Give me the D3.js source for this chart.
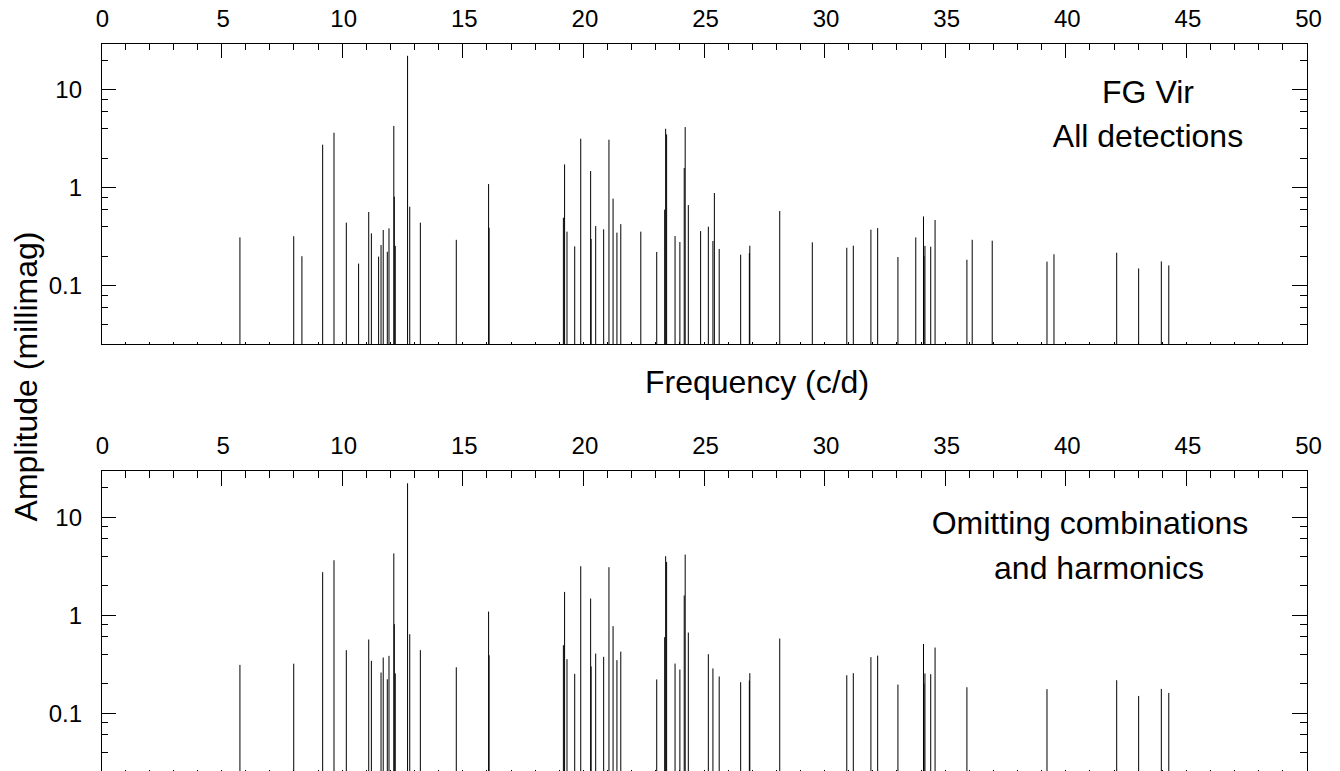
<!DOCTYPE html>
<html>
<head>
<meta charset="utf-8">
<script src="https://cdn.jsdelivr.net/npm/d3@7"></script>
<style>
  body { margin: 0; background: #fff; }
  svg { display: block; font-family: "Liberation Sans", Arial, sans-serif; }
</style>
</head>
<body>
<div id="chart"></div>
<script>
// frequencies (c/d) of the detected peaks
const freqs = [5.76, 7.99, 8.33, 9.19, 9.66, 10.17, 10.68, 11.10, 11.21, 11.51,
  11.61, 11.70, 11.87, 11.94, 12.14, 12.16, 12.20, 12.71, 12.80, 13.24,
  14.73, 16.07, 16.09, 19.17, 19.22, 19.32, 19.64, 19.89, 20.30, 20.32,
  20.51, 20.84, 21.06, 21.23, 21.39, 21.55, 22.38, 23.04, 23.37, 23.41,
  23.45, 23.80, 24.00, 24.18, 24.22, 24.35, 24.86, 25.18, 25.37, 25.43,
  25.63, 26.52, 26.88, 26.90, 28.14, 29.49, 30.92, 31.19, 31.92, 32.20,
  33.04, 33.78, 34.10, 34.12, 34.16, 34.40, 34.58, 35.90, 36.12, 36.95,
  39.22, 39.51, 42.11, 43.02, 43.96, 44.27];

// amplitudes (millimag)
const amps = [0.311, 0.32, 0.20, 2.75, 3.64, 0.44, 0.168, 0.565, 0.342, 0.198,
  0.26, 0.37, 0.222, 0.385, 4.27, 0.81, 0.255, 22.2, 0.64, 0.44,
  0.294, 1.09, 0.39, 0.494, 1.73, 0.356, 0.252, 3.16, 1.48, 0.30,
  0.406, 0.376, 3.09, 0.774, 0.348, 0.425, 0.356, 0.221, 0.597, 4.0,
  3.5, 0.321, 0.279, 1.59, 4.16, 0.665, 0.361, 0.40, 0.286, 0.883,
  0.237, 0.207, 0.215, 0.256, 0.578, 0.277, 0.244, 0.256, 0.373, 0.387,
  0.196, 0.311, 0.509, 0.20, 0.255, 0.25, 0.468, 0.184, 0.294, 0.288,
  0.176, 0.209, 0.217, 0.150, 0.177, 0.161];

// combination frequencies / harmonics, left out of the lower panel
const combos = [8.33, 10.68, 11.51, 22.38, 24.86, 25.43, 29.49, 33.78, 36.12, 36.95, 39.51];

const xTicks = [0, 5, 10, 15, 20, 25, 30, 35, 40, 45, 50];
const yTicks = [0.1, 1, 10];
const yTickLabels = ["0.1", "1", "10"];
const panelNotes = [["FG Vir", "All detections"], ["Omitting combinations", "and harmonics"]];

const W = 1340, H = 771;
const left = 101, right = 1307, plotH = 301;

var svg = d3.select("#chart").append("svg")
  .attr("width", W)
  .attr("height", H);

var x = d3.scaleLinear().domain([0, 50]).range([0, right - left]);
var y = d3.scaleLog().domain([0.0254, 30]).range([plotH, 0]);

var peaks = freqs.map(function (f, i) { return { f: f, a: amps[i] }; });
var kept = peaks.filter(function (d) { return combos.indexOf(d.f) < 0; });

// minor ticks at 2,4,6,8 of each decade
var yMinor = [];
[0.01, 0.1, 1, 10].forEach(function (dec) {
  [2, 4, 6, 8].forEach(function (m) {
    var v = +(m * dec).toPrecision(3);
    if (v > y.domain()[0] && v < y.domain()[1]) yMinor.push(v);
  });
});
var xMinor = d3.range(0, 51).filter(function (v) { return v % 5 != 0; });

function panel(top, data, notes, noteLayout) {
  var g = svg.append("g").attr("transform", "translate(" + left + "," + top + ")");
  var w = right - left;

  g.selectAll(".peak")
    .data(data)
    .enter().append("line")
    .attr("class", "peak")
    .attr("x1", function (d) { return x(d.f); })
    .attr("x2", function (d) { return x(d.f); })
    .attr("y1", plotH)
    .attr("y2", function (d) { return y(d.a); })
    .attr("stroke", "#000")
    .attr("stroke-width", 1);

  var ticks = g.append("g")
    .attr("stroke", "#000")
    .attr("stroke-width", 1)
    .attr("shape-rendering", "crispEdges");

  // top axis (ticks inside)
  ticks.selectAll(".xt").data(xTicks.slice(1, -1)).enter().append("line")
    .attr("x1", function (d) { return x(d); }).attr("x2", function (d) { return x(d); })
    .attr("y1", 0).attr("y2", 15);
  ticks.selectAll(".xm").data(xMinor).enter().append("line")
    .attr("x1", function (d) { return x(d); }).attr("x2", function (d) { return x(d); })
    .attr("y1", 0).attr("y2", 7);
  // bottom axis: tiny ticks
  ticks.selectAll(".xb").data(d3.range(1, 50)).enter().append("line")
    .attr("x1", function (d) { return x(d); }).attr("x2", function (d) { return x(d); })
    .attr("y1", plotH).attr("y2", plotH - 2);

  // left and right axes
  [0, w].forEach(function (x0) {
    var s = x0 == 0 ? 1 : -1;
    ticks.selectAll(null).data(yTicks).enter().append("line")
      .attr("x1", x0).attr("x2", x0 + s * 15)
      .attr("y1", function (d) { return y(d); }).attr("y2", function (d) { return y(d); });
    ticks.selectAll(null).data(yMinor).enter().append("line")
      .attr("x1", x0).attr("x2", x0 + s * 7)
      .attr("y1", function (d) { return y(d); }).attr("y2", function (d) { return y(d); });
  });

  g.append("rect")
    .attr("x", 0).attr("y", 0)
    .attr("width", w).attr("height", plotH)
    .attr("fill", "none")
    .attr("stroke", "#000")
    .attr("stroke-width", 1)
    .attr("shape-rendering", "crispEdges");

  // tick labels
  g.selectAll(".xl").data(xTicks).enter().append("text")
    .attr("x", function (d) { return x(d) + 1.5; })
    .attr("y", -16.5)
    .attr("text-anchor", "middle")
    .style("font-size", "24px")
    .text(function (d) { return d; });

  g.selectAll(".yl").data(yTicks).enter().append("text")
    .attr("x", -19)
    .attr("y", function (d) { return y(d); })
    .attr("dy", "0.35em")
    .attr("text-anchor", "end")
    .style("font-size", "24px")
    .text(function (d, i) { return yTickLabels[i]; });

  notes.forEach(function (t, i) {
    g.append("text")
      .attr("x", noteLayout[i][0] - left)
      .attr("y", noteLayout[i][1])
      .attr("text-anchor", "middle")
      .style("font-size", "32px")
      .text(t);
  });
}

panel(43, peaks, panelNotes[0], [[1148, 59.5], [1148, 104]]);
panel(470.5, kept, panelNotes[1], [[1090, 63], [1099, 108]]);

// axis titles
svg.append("text")
  .attr("x", 757)
  .attr("y", 393)
  .attr("text-anchor", "middle")
  .style("font-size", "32px")
  .text("Frequency (c/d)");

svg.append("text")
  .attr("transform", "translate(37,376.5) rotate(-90)")
  .attr("text-anchor", "middle")
  .style("font-size", "32px")
  .text("Amplitude (millimag)");
</script>
</body>
</html>
